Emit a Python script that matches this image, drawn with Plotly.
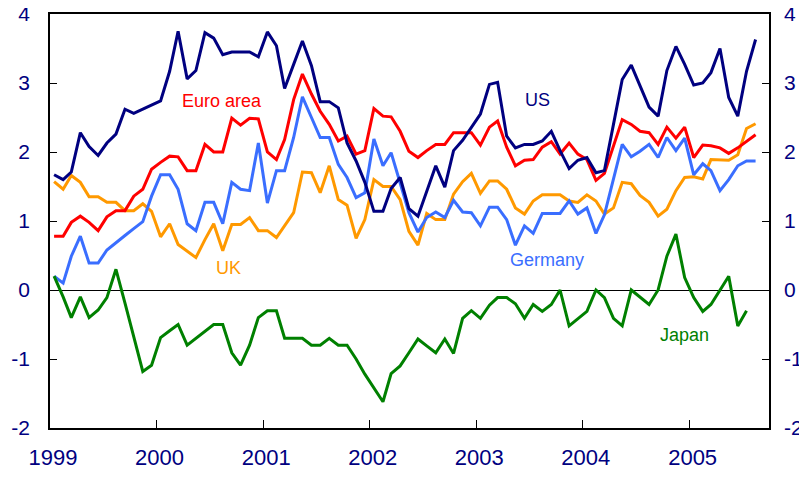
import plotly.graph_objects as go
import pandas as pd

months = pd.date_range("1999-01-01", periods=80, freq="MS") + pd.Timedelta(days=14)  # mid-month

us = [1.67, 1.60, 1.71, 2.28, 2.08, 1.95, 2.13, 2.26, 2.62, 2.56, 2.62, 2.68,
      2.74, 3.17, 3.75, 3.06, 3.18, 3.73, 3.65, 3.41, 3.45, 3.45, 3.45, 3.38,
      3.74, 3.54, 2.92, 3.27, 3.61, 3.25, 2.73, 2.73, 2.64, 2.13, 1.87, 1.56,
      1.14, 1.14, 1.47, 1.63, 1.18, 1.07, 1.43, 1.80, 1.49, 2.02, 2.17, 2.36,
      2.55, 2.98, 3.01, 2.23, 2.06, 2.11, 2.11, 2.16, 2.30, 2.02, 1.76, 1.88,
      1.92, 1.70, 1.73, 2.40, 3.05, 3.26, 2.96, 2.65, 2.52, 3.18, 3.53, 3.27,
      2.97, 3.00, 3.15, 3.50, 2.79, 2.52, 3.17, 3.63]
euro = [0.78, 0.78, 0.98, 1.07, 0.98, 0.86, 1.06, 1.15, 1.15, 1.36, 1.46, 1.75,
        1.85, 1.94, 1.93, 1.73, 1.73, 2.11, 2.00, 2.00, 2.49, 2.39, 2.49, 2.48,
        2.00, 1.89, 2.18, 2.76, 3.13, 2.84, 2.59, 2.40, 2.16, 2.23, 1.97, 2.02,
        2.63, 2.52, 2.51, 2.30, 2.01, 1.92, 2.02, 2.11, 2.11, 2.28, 2.28, 2.28,
        2.10, 2.36, 2.45, 2.07, 1.80, 1.88, 1.89, 2.07, 2.15, 1.97, 2.13, 1.97,
        1.89, 1.59, 1.69, 2.09, 2.47, 2.40, 2.30, 2.28, 2.11, 2.36, 2.20, 2.36,
        1.92, 2.10, 2.09, 2.06, 1.98, 2.06, 2.15, 2.25]
germany = [0.20, 0.10, 0.49, 0.78, 0.39, 0.39, 0.58, 0.69, 0.79, 0.89, 0.99, 1.36,
           1.67, 1.67, 1.46, 0.96, 0.86, 1.27, 1.27, 0.96, 1.56, 1.46, 1.44, 2.13,
           1.26, 1.73, 1.73, 2.21, 2.80, 2.50, 2.21, 2.21, 1.82, 1.63, 1.34, 1.41,
           2.19, 1.80, 1.99, 1.55, 1.12, 0.84, 1.05, 1.13, 1.05, 1.30, 1.13, 1.12,
           0.93, 1.20, 1.20, 1.02, 0.65, 0.93, 0.82, 1.11, 1.11, 1.11, 1.29, 1.10,
           1.19, 0.82, 1.09, 1.62, 2.11, 1.93, 2.01, 2.11, 1.92, 2.21, 2.02, 2.20,
           1.67, 1.83, 1.73, 1.44, 1.60, 1.80, 1.87, 1.87]
uk = [1.57, 1.46, 1.66, 1.56, 1.35, 1.35, 1.27, 1.27, 1.15, 1.15, 1.25, 1.14,
      0.77, 0.96, 0.66, 0.57, 0.47, 0.73, 0.96, 0.57, 0.95, 0.95, 1.05, 0.86,
      0.86, 0.76, 0.94, 1.12, 1.71, 1.70, 1.41, 1.80, 1.31, 1.23, 0.75, 1.02,
      1.60, 1.50, 1.50, 1.31, 0.85, 0.65, 1.11, 1.02, 1.02, 1.39, 1.57, 1.69,
      1.40, 1.58, 1.58, 1.46, 1.19, 1.10, 1.29, 1.38, 1.38, 1.38, 1.29, 1.27,
      1.38, 1.29, 1.10, 1.19, 1.56, 1.54, 1.37, 1.27, 1.07, 1.17, 1.44, 1.63,
      1.64, 1.61, 1.89, 1.89, 1.88, 1.96, 2.34, 2.41]
japan = [0.20, -0.10, -0.40, -0.10, -0.40, -0.29, -0.11, 0.30, -0.19, -0.69, -1.18, -1.09,
         -0.69, -0.59, -0.50, -0.80, -0.70, -0.59, -0.50, -0.50, -0.91, -1.09, -0.80, -0.40,
         -0.30, -0.30, -0.70, -0.70, -0.70, -0.80, -0.80, -0.70, -0.80, -0.80, -1.00, -1.22,
         -1.42, -1.62, -1.21, -1.10, -0.91, -0.71, -0.81, -0.91, -0.71, -0.92, -0.41, -0.30,
         -0.41, -0.22, -0.11, -0.11, -0.20, -0.41, -0.21, -0.31, -0.21, 0.00, -0.52, -0.41,
         -0.31, 0.00, -0.11, -0.41, -0.52, 0.00, -0.11, -0.21, 0.00, 0.49, 0.81, 0.18,
         -0.11, -0.31, -0.21, 0.00, 0.20, -0.52, -0.30]

y_ticks = [4, 3, 2, 1, 0, -1, -2]
y_tick_labels = ["4", "3", "2", "1", "0", "-1", "-2"]  # plain hyphen, as in the original

def plot_inflation():
    """
    Plots monthly inflation lines for five economies with labels on the lines.
    """
    series = [("UK", uk, "#FF9900"), ("Germany", germany, "#3A6EFF"),
              ("Japan", japan, "#008000"), ("Euro area", euro, "#FF0000"),
              ("US", us, "#000080")]

    fig = go.Figure()
    for name, values, colour in series:
        fig.add_trace(go.Scatter(x=months[:len(values)], y=values, name=name,
                                 mode="lines", line=dict(color=colour, width=3)))
    # invisible copy so the right-hand axis gets drawn with its labels
    fig.add_trace(go.Scatter(x=months, y=us, yaxis="y2", mode="lines", opacity=0,
                             line=dict(width=0), hoverinfo="skip"))

    labels = [("Euro area", "2000-08-14", 2.74, "#FF0000"),
              ("US", "2003-07-30", 2.75, "#000080"),
              ("UK", "2000-09-02", 0.32, "#FF9900"),
              ("Germany", "2003-09-01", 0.43, "#3A6EFF"),
              ("Japan", "2004-12-14", -0.65, "#008000")]
    for text, x, y, colour in labels:
        fig.add_annotation(x=x, y=y, text=text, showarrow=False,
                           font=dict(size=18, color=colour))

    tick_font = dict(size=21, color="#000080")
    fig.update_layout(
        width=791, height=461,  # page body adds an 8px margin all round
        margin=dict(l=42, r=30, t=6, b=41),
        font=dict(family="Liberation Sans, Arial, sans-serif"),
        plot_bgcolor="white",
        paper_bgcolor="white",
        showlegend=False,
        xaxis=dict(range=["1999-01-01", "2005-09-30"], tick0="1999-01-01", dtick="M12",
                   tickformat="%Y", ticks="inside", ticklen=8, tickcolor="black",
                   showgrid=False, showline=True, linecolor="black", linewidth=1.5,
                   mirror=True, tickfont=dict(size=22, color="#000080"),
                   ticklabelstandoff=9, ticklabelshift=3, automargin=False,
                   ticklabeloverflow="allow"),
        yaxis=dict(range=[-2, 4], tickvals=y_ticks, ticktext=y_tick_labels,
                   ticks="inside", ticklen=7,
                   tickcolor="black", showgrid=False, showline=True, linecolor="black",
                   linewidth=1.5, zeroline=True, zerolinecolor="black", zerolinewidth=1.2,
                   tickfont=tick_font, ticklabelstandoff=14, automargin=False,
                   ticklabeloverflow="allow"),
        yaxis2=dict(range=[-2, 4], tickvals=y_ticks, ticktext=y_tick_labels,
                    ticks="inside", ticklen=7,
                    tickcolor="black", showgrid=False, showline=True, linecolor="black",
                    linewidth=1.5, zeroline=False, overlaying="y", side="right",
                    tickfont=tick_font, ticklabelstandoff=9, automargin=False,
                    ticklabeloverflow="allow")
    )
    return fig

fig = plot_inflation()
fig.write_html("out.html")
